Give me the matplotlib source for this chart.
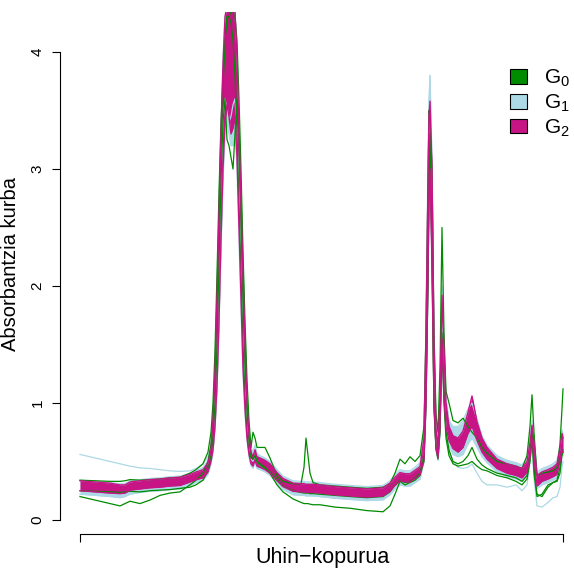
import matplotlib.pyplot as plt
from matplotlib.patches import Patch

plt.rcParams['font.family'] = ['Liberation Sans', 'DejaVu Sans']

# channel positions (wave-number index, no labels on the axis)
x_px = [80, 95, 110, 120, 125, 130, 140, 150, 160, 170, 180, 190, 196, 203, 208, 211,
        213, 215, 217, 219, 221, 223, 225, 227, 229, 231, 233, 235, 237, 239, 241, 243,
        245, 247, 249, 251, 253, 255, 257, 260, 265, 270, 277, 283, 293, 301, 304, 306,
        308, 310, 313, 320, 335, 350, 367, 383, 390, 395, 400, 405, 410, 415, 420, 424,
        426, 428, 429, 430, 432, 434, 436, 438, 440, 442, 444, 446, 449, 453, 458, 463,
        468, 472, 477, 482, 487, 497, 507, 516, 522, 527, 530, 532, 534, 537, 542, 548,
        553, 557, 560, 562, 563]
channel = [p - 80 for p in x_px]

# G2 band (lower / upper envelope)
g2_lo = [.25, .24, .23, .225, .23, .255, .265, .275, .28, .29, .295, .325, .345, .36, .41, .50,
         .60, .80, 1.15, 1.7, 2.4, 3.0, 3.4, 3.55, 3.45, 3.3, 3.35, 3.45, 3.1, 2.5, 1.9, 1.3,
         .95, .70, .56, .48, .46, .51, .46, .45, .43, .40, .335, .285, .245, .24, .24, .235,
         .235, .235, .235, .23, .215, .205, .195, .205, .245, .295, .335, .325, .325, .355, .385, .52,
         1.0, 2.1, 2.8, 3.0, 2.2, 1.0, .62, .53, .80, 1.55, 1.05, .80, .68, .61, .58, .62,
         .74, .80, .68, .58, .52, .44, .40, .38, .36, .41, .53, .70, .53, .29, .33, .35,
         .37, .39, .50, .60, .58]
g2_hi = [.335, .325, .315, .30, .30, .325, .335, .345, .35, .36, .365, .39, .41, .43, .49, .60,
         .85, 1.25, 1.9, 2.6, 3.3, 3.9, 4.3, 4.4, 4.4, 4.4, 4.4, 4.35, 3.95, 3.3, 2.7, 2.1,
         1.5, 1.0, .72, .58, .54, .60, .54, .53, .51, .48, .405, .355, .315, .31, .31, .305,
         .305, .305, .305, .30, .285, .275, .265, .275, .315, .365, .405, .395, .395, .425, .455, .70,
         1.6, 2.9, 3.45, 3.58, 3.0, 1.5, .78, .62, 1.05, 1.92, 1.45, 1.0, .80, .72, .70, .76,
         .92, 1.06, .84, .70, .62, .52, .48, .46, .44, .50, .66, .81, .66, .38, .41, .43,
         .45, .48, .61, .74, .70]

# G1 band (lower / upper envelope) and one tilted G1 sample
g1_lo = [.22, .21, .20, .19, .20, .22, .235, .245, .25, .26, .265, .295, .32, .34, .39, .48,
         .58, .78, 1.1, 1.65, 2.3, 2.9, 3.3, 3.4, 3.3, 3.2, 3.2, 3.3, 3.0, 2.4, 1.8, 1.25,
         .90, .68, .54, .46, .44, .49, .44, .43, .41, .38, .31, .26, .215, .21, .21, .205,
         .205, .205, .205, .20, .185, .175, .165, .175, .215, .265, .30, .29, .29, .32, .35, .50,
         .95, 2.0, 2.7, 2.9, 2.1, .95, .60, .51, .75, 1.5, 1.0, .78, .64, .56, .54, .56,
         .65, .70, .62, .54, .49, .41, .37, .35, .33, .38, .50, .66, .50, .27, .30, .32,
         .34, .36, .47, .57, .55]
g1_hi = [.34, .33, .32, .31, .31, .335, .345, .355, .36, .37, .375, .40, .42, .45, .51, .63,
         .90, 1.3, 2.0, 2.7, 3.4, 3.95, 4.3, 4.4, 4.4, 4.4, 4.4, 4.35, 4.0, 3.4, 2.8, 2.2,
         1.6, 1.1, .78, .62, .58, .64, .57, .55, .53, .50, .43, .375, .335, .33, .33, .325,
         .325, .325, .325, .32, .305, .295, .285, .295, .335, .39, .43, .42, .42, .45, .49, .75,
         1.7, 3.1, 3.6, 3.8, 3.1, 1.6, .85, .66, 1.1, 2.0, 1.5, 1.05, .85, .80, .80, .85,
         .95, 1.0, .86, .72, .64, .55, .51, .49, .47, .53, .72, .85, .70, .41, .44, .46,
         .48, .51, .64, .77, .73]
g1_tilt = [.56, .53, .50, .48, .47, .46, .445, .44, .43, .42, .415, .42, .44, .48, .54, .62,
           .78, 1.05, 1.55, 2.2, 2.9, 3.4, 3.6, 3.5, 3.4, 3.45, 3.55, 3.6, 3.3, 2.8, 2.2, 1.6,
           1.15, .82, .62, .52, .50, .55, .50, .47, .44, .40, .33, .28, .24, .225, .22, .22,
           .215, .215, .21, .20, .19, .18, .17, .17, .22, .28, .31, .29, .30, .32, .35, .55,
           1.3, 2.7, 3.5, 3.8, 2.8, 1.2, .62, .52, .80, 1.7, 1.1, .75, .58, .50, .45, .44,
           .45, .48, .40, .33, .30, .30, .28, .30, .25, .30, .50, .65, .35, .12, .11, .15,
           .19, .20, .28, .45, .50]

# G0 samples
g0_top = [.34, .335, .33, .33, .335, .345, .34, .345, .35, .36, .365, .40, .43, .48, .58, .75,
          1.0, 1.45, 2.1, 2.8, 3.4, 3.8, 4.1, 4.3, 4.3, 4.35, 4.35, 4.3, 4.1, 3.6, 3.0, 2.3,
          1.7, 1.2, .85, .62, .75, .70, .62, .62, .62, .53, .38, .33, .31, .31, .45, .70,
          .55, .40, .32, .30, .29, .28, .27, .28, .31, .40, .52, .48, .54, .50, .55, .80,
          1.6, 2.9, 3.5, 3.45, 3.0, 1.6, .90, .75, 1.3, 2.5, 1.6, 1.1, 1.0, .85, .83, .87,
          .80, .75, .70, .62, .57, .50, .48, .46, .44, .55, .80, 1.07, .75, .38, .40, .41,
          .42, .45, .65, .95, 1.12]
g0_mid = [.25, .245, .24, .235, .24, .245, .24, .25, .255, .26, .27, .28, .30, .34, .42, .55,
          .72, 1.0, 1.5, 2.2, 2.9, 3.4, 3.6, 3.25, 3.2, 3.1, 3.0, 3.3, 3.6, 3.3, 2.6, 1.9,
          1.35, .95, .68, .55, .52, .55, .50, .47, .44, .41, .35, .29, .25, .235, .23, .23,
          .23, .225, .225, .22, .21, .20, .19, .20, .24, .30, .34, .32, .33, .36, .40, .55,
          1.1, 2.2, 2.9, 3.3, 2.3, 1.0, .62, .55, .80, 1.6, 1.1, .75, .60, .50, .48, .50,
          .55, .62, .52, .47, .44, .40, .38, .36, .33, .38, .55, .78, .45, .22, .20, .28,
          .32, .34, .45, .60, .60]
g0_low = [.20, .17, .14, .12, .14, .16, .14, .17, .21, .23, .24, .30, .34, .40, .50, .65,
          .85, 1.2, 1.8, 2.5, 3.2, 3.7, 4.1, 4.3, 4.3, 4.25, 4.1, 3.8, 3.3, 2.7, 2.1, 1.5,
          1.05, .75, .58, .53, .52, .55, .50, .48, .45, .40, .30, .24, .18, .15, .14, .14,
          .14, .135, .13, .13, .11, .10, .08, .07, .12, .22, .33, .30, .32, .34, .38, .50,
          1.0, 2.0, 2.8, 3.2, 2.2, .95, .60, .52, .75, 1.5, 1.0, .70, .55, .48, .46, .47,
          .48, .50, .46, .43, .42, .38, .36, .33, .30, .35, .50, .70, .40, .20, .22, .30,
          .32, .33, .40, .55, .58]

group_names = ['$\\mathregular{G_0}$', '$\\mathregular{G_1}$', '$\\mathregular{G_2}$']
group_colors = ['#008B00', '#ADD8E6', '#C71585']

fig = plt.figure(figsize=(5.74, 5.69), dpi=100)
ax = fig.add_axes([60 / 574, 35 / 569, 514 / 574, 522 / 569])

# G1
ax.fill_between(channel, g1_lo, g1_hi, color=group_colors[1], lw=0)
ax.plot(channel, g1_lo, color=group_colors[1], lw=0.9)
ax.plot(channel, g1_hi, color=group_colors[1], lw=0.9)
ax.plot(channel, g1_tilt, color=group_colors[1], lw=0.9)

# G0
for y in [g0_top, g0_mid, g0_low]:
    ax.plot(channel, y, color=group_colors[0], lw=0.9)

# G2
ax.fill_between(channel, g2_lo, g2_hi, color=group_colors[2], lw=0)
ax.plot(channel, g2_lo, color=group_colors[2], lw=1)
ax.plot(channel, g2_hi, color=group_colors[2], lw=1)

ax.set_xlim(-20, 494)
ax.set_ylim(-0.12, 4.342)

for s in ['top', 'right']:
    ax.spines[s].set_visible(False)
ax.spines['left'].set_bounds(0, 4)
ax.spines['bottom'].set_bounds(channel[0], channel[-1])
ax.set_xticks([channel[0], channel[-1]])
ax.set_xticklabels(['', ''])
ax.set_yticks([0, 1, 2, 3, 4])
ax.set_yticklabels(['0', '1', '2', '3', '4'], rotation=90, va='center', fontsize=11)
ax.tick_params(length=6, width=0.8, pad=5)

ax.set_ylabel('Absorbantzia kurba', fontsize=14.5)
ax.yaxis.set_label_coords(-0.078, 0.517)
ax.set_xlabel('Uhin\u2212kopurua', fontsize=15.5, va='top')
ax.xaxis.set_label_coords(0.5098, -0.024)

handles = [Patch(facecolor=c, edgecolor='black', lw=0.8) for c in group_colors]
ax.legend(handles, group_names, loc='upper left', bbox_to_anchor=(510 / 574, 1 - 68 / 569),
          bbox_transform=fig.transFigure, frameon=False, fontsize=15,
          handlelength=0.8, handleheight=0.7, handletextpad=0.85, labelspacing=0.16,
          borderpad=0, borderaxespad=0)

plt.savefig('out.png', dpi=100)
